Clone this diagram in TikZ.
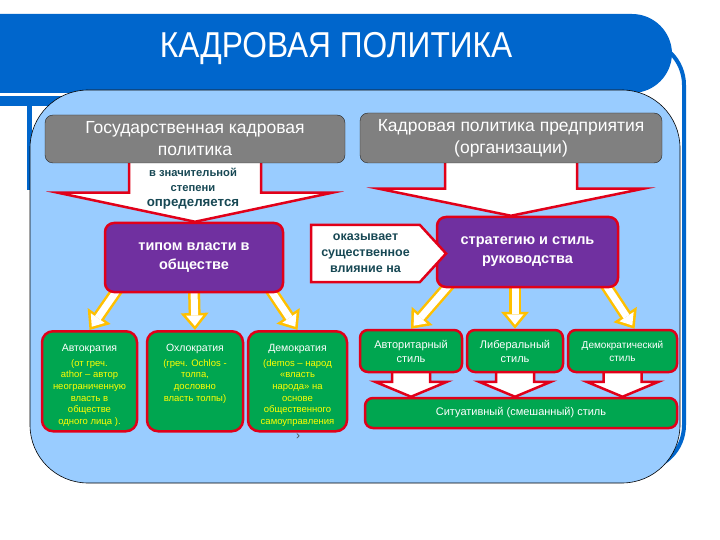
\documentclass[tikz,border=0pt]{standalone}
\usepackage{fontspec}
\setmainfont{Liberation Sans}
\newfontfamily\titlefont[FakeStretch=0.88]{Liberation Sans}
\usetikzlibrary{arrows.meta,calc,shapes.symbols}

\definecolor{headerblue}{RGB}{0,102,204}
\definecolor{panelblue}{RGB}{153,204,255}
\definecolor{boxgray}{RGB}{128,128,128}
\definecolor{alertred}{RGB}{225,0,25}
\definecolor{powerviolet}{RGB}{112,48,160}
\definecolor{formgreen}{RGB}{0,166,80}
\definecolor{noteyellow}{RGB}{255,255,0}
\definecolor{arrowgold}{RGB}{255,192,0}
\definecolor{darkteal}{RGB}{23,72,84}

\pgfdeclarelayer{back}
\pgfdeclarelayer{mid}
\pgfsetlayers{back,mid,main}

\tikzset{
  graybox/.style={draw=black!85, fill=boxgray, rounded corners=8pt, text=white, align=center,
    font=\fontsize{17.5}{22}\selectfont, inner sep=0pt},
  powerbox/.style={draw=alertred, line width=2.5pt, fill=powerviolet, rounded corners=9pt, text=white,
    align=center, font=\bfseries\fontsize{14.5}{19}\selectfont, inner sep=0pt},
  formbox/.style={draw=alertred, line width=2.5pt, fill=formgreen, rounded corners=11pt, anchor=north,
    text=noteyellow, inner xsep=2pt, inner ysep=13pt, font=\fontsize{9.5}{11.7}\selectfont},
  stylebox/.style={draw=alertred, line width=2.5pt, fill=formgreen, rounded corners=8pt, text=white,
    align=center, font=\fontsize{11}{14}\selectfont, inner sep=0pt, minimum height=42pt},
  redarrow/.style={draw=alertred, line width=2.5pt, fill=white},
  goldline/.style={arrowgold, line width=12pt, -{Triangle[length=17pt,width=28pt,line width=0pt]}},
  whiteline/.style={white, line width=7pt, -{Triangle[length=10.5pt,width=17pt,line width=0pt]}, shorten >=4pt},
  tealtext/.style={text=darkteal, align=center, font=\bfseries\fontsize{12.5}{16}\selectfont},
}

% block arrow: from node, to node, shaft half width, head half width, head length
\newcommand\blockarrow[5]{%
  \path (#1.south) coordinate (ba top) (#2.north -| #1.south) coordinate (ba tip);
  \draw[redarrow] ($(ba top)+(-#3,-6)$) -- ($(ba tip)+(-#3,-#5)$) -- ($(ba tip)+(-#4,-#5)$)
    -- (ba tip) -- ($(ba tip)+(#4,-#5)$) -- ($(ba tip)+(#3,-#5)$) -- ($(ba top)+(#3,-6)$) -- cycle;
}

\begin{document}
\begin{tikzpicture}[x=1pt, y=-1pt]
    \useasboundingbox (0,0) rectangle (720,540);

    % frame and panel
    \begin{pgfonlayer}{back}
        \fill[white] (0,0) rectangle (720,540);
        \draw[headerblue, line width=4pt, rounded corners=45pt] (600,40) -- (684,40) -- (684,470) -- (600,470);
        \fill[headerblue, rounded corners=40pt] (-60,14) rectangle (672,93);
        \fill[headerblue] (0,96) rectangle (140,106);
        \fill[headerblue] (27,96) rectangle (32,190);
        \filldraw[fill=panelblue, draw=black, line width=0.6pt, rounded corners=58pt] (30,90) rectangle (680,483);
    \end{pgfonlayer}

    \node[text=white, font=\titlefont\fontsize{36}{36}\selectfont] (title) at (336,49) {КАДРОВАЯ ПОЛИТИКА};

    % top boxes
    \node[graybox, minimum width=300pt, minimum height=48pt] (gos) at (195,139) {Государственная кадровая\\политика};
    \node[graybox, minimum width=302pt, minimum height=50pt] (org) at (511,138) {Кадровая политика предприятия\\(организации)};

    \node[powerbox, minimum width=178pt, minimum height=69pt] (tipo) at (194,257.5) {типом власти в\\обществе};
    \node[powerbox, minimum width=181pt, minimum height=70pt] (strat) at (527.5,252) {стратегию и стиль\\руководства};

    \node[tealtext, font=\bfseries\fontsize{11.2}{15}\selectfont] (opr) at (193,189)
        {в значительной\\степени\\\fontsize{13.3}{16}\selectfont определяется};
    \node[draw=alertred, line width=2.5pt, fill=white, shape=signal, signal to=east, signal pointer angle=95,
          minimum width=135pt, minimum height=57pt, inner sep=0pt, tealtext] (okaz) at (365.5,253.5)
          {оказывает\\существенное\\влияние на};

    % forms of power
    \node[formbox] (avto) at (89.5,330) {\parbox[c][74pt][t]{91pt}{\centering
        {\color{white}\fontsize{10.5}{12}\selectfont Автократия}\\[3pt]
        (от греч.\\athor – автор\\неограниченную\\власть в\\обществе\\одного лица ).}};
    \node[formbox] (ochlo) at (195,330) {\parbox[c][74pt][t]{92pt}{\centering
        {\color{white}\fontsize{10.5}{12}\selectfont Охлократия}\\[3pt]
        (греч. Ochlos -\\толпа,\\дословно\\власть толпы)}};
    \node[formbox] (demo) at (297.5,330) {\parbox[c][74pt][t]{95pt}{\centering
        {\color{white}\fontsize{10.5}{12}\selectfont Демократия}\\[3pt]
        (demos – народ\\«власть\\народа» на\\основе\\общественного\\самоуправления}};
    \node[text=black!70, font=\fontsize{12}{12}\selectfont] (mark) at (298,437) {›};

    % management styles
    \node[stylebox, minimum width=102pt] (avtor) at (411,351) {Авторитарный\\стиль};
    \node[stylebox, minimum width=96pt] (lib) at (515,351) {Либеральный\\стиль};
    \node[stylebox, minimum width=109pt, font=\fontsize{10}{13}\selectfont] (dem) at (622.5,351) {Демократический\\стиль};
    \node[stylebox, minimum width=312pt, minimum height=30pt, font=\fontsize{11}{13}\selectfont] (sit) at (521,413)
        {Ситуативный (смешанный) стиль};

    % arrows behind the boxes
    \begin{pgfonlayer}{mid}
        \blockarrow{gos}{tipo}{66}{137}{29}
        \blockarrow{org}{strat}{66}{132}{27}
        \blockarrow{avtor}{sit}{19}{36}{15}
        \blockarrow{lib}{sit}{19}{36}{15}
        \blockarrow{dem}{sit}{19}{36}{15}

        \draw[goldline] ($(tipo.south west)+(14,-4)$) -- (avto.north);
        \draw[whiteline] ($(tipo.south west)+(14,-4)$) -- (avto.north);
        \draw[goldline] ($(tipo.south)+(0,-4)$) -- (ochlo.north);
        \draw[whiteline] ($(tipo.south)+(0,-4)$) -- (ochlo.north);
        \draw[goldline] ($(tipo.south east)+(-14,-4)$) -- (demo.north);
        \draw[whiteline] ($(tipo.south east)+(-14,-4)$) -- (demo.north);

        \draw[goldline] ($(strat.south west)+(14,-4)$) -- (avtor.north);
        \draw[whiteline] ($(strat.south west)+(14,-4)$) -- (avtor.north);
        \draw[goldline] ($(lib.north |- strat.south)+(0,-4)$) -- (lib.north);
        \draw[whiteline] ($(lib.north |- strat.south)+(0,-4)$) -- (lib.north);
        \draw[goldline] ($(strat.south east)+(-14,-4)$) -- ($(dem.north)+(12,0)$);
        \draw[whiteline] ($(strat.south east)+(-14,-4)$) -- ($(dem.north)+(12,0)$);
    \end{pgfonlayer}
\end{tikzpicture}
\end{document}
